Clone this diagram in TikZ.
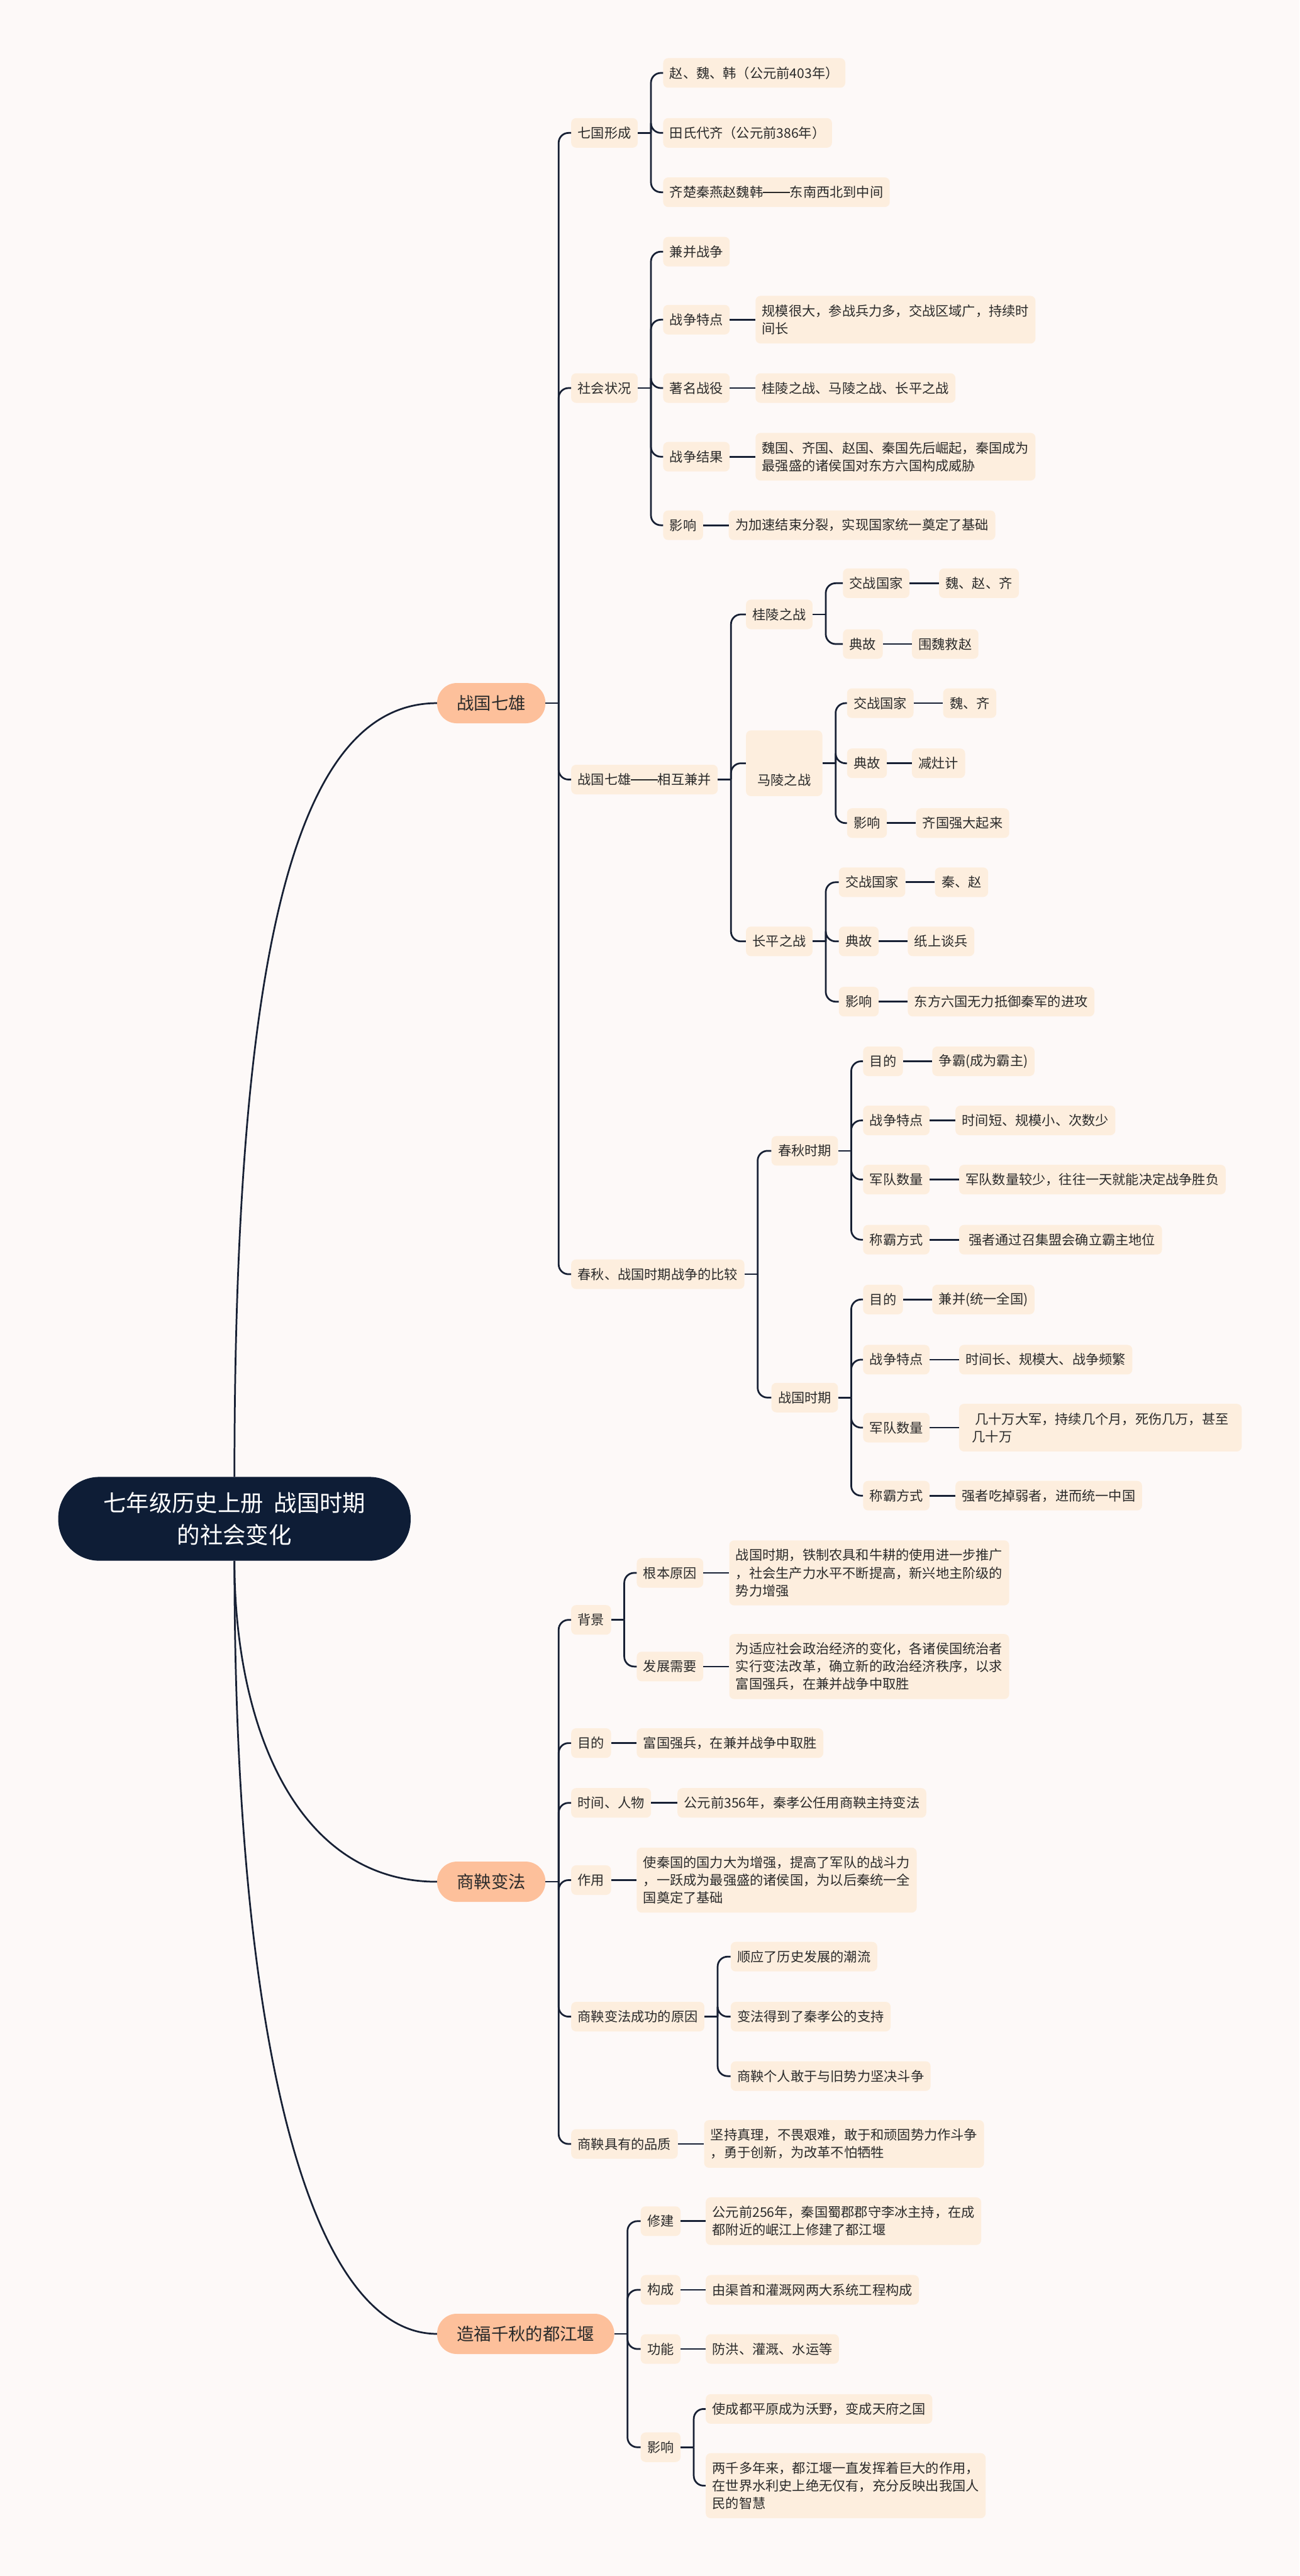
\documentclass[tikz,border=0pt]{standalone}
\usepackage{fontspec}
\setmainfont{Noto Sans CJK SC}
\usepackage{xcolor}
\definecolor{bgcol}{HTML}{FDF9F8}
\definecolor{navy}{HTML}{0E1D36}
\definecolor{salmon}{HTML}{FDC09B}
\definecolor{peach}{HTML}{FDEEDE}
\definecolor{linecol}{HTML}{172034}
\definecolor{textcol}{HTML}{2A2A2A}

\begin{document}
\begin{tikzpicture}[x=1mm, y=-1mm,
    rootnode/.style={fill=navy, text=white, rounded corners=25mm, align=center,
        minimum width=214.5mm, minimum height=51mm, inner sep=0pt,
        font=\fontsize{39.7}{55}\selectfont},
    topicnode/.style={fill=salmon, text=textcol, rounded corners=12mm, anchor=west,
        minimum height=24.5mm, inner xsep=12mm, inner ysep=0pt,
        font=\fontsize{29.8}{36}\selectfont},
    itemnode/.style={fill=peach, text=textcol, rounded corners=3mm, anchor=west,
        align=left, minimum height=18mm, inner xsep=4mm, inner ysep=0pt,
        font=\fontsize{23.1}{30.6}\selectfont},
    lines2/.style={minimum height=29mm},
    lines3/.style={minimum height=39.6mm},
    conn/.style={draw=linecol, line width=1.05mm, rounded corners=6mm}]

    % Background
    \fill[bgcol] (0,0) rectangle (791,1568);
    \useasboundingbox (0,0) rectangle (791,1568);

    % Root and main topics
    \node[rootnode] (root) at (142.7,924.5) {七年级历史上册~~战国时期\\的社会变化};
    \node[topicnode] (zgqx) at (266,428) {战国七雄};
    \node[topicnode] (sybf) at (266,1145.4) {商鞅变法};
    \node[topicnode] (djy) at (266,1420.6) {造福千秋的都江堰};
    \draw[conn] (root.north) .. controls (142.7,560) and (185,428) .. (zgqx.west);
    \draw[conn] (root.south) .. controls (142.7,1050) and (180,1145.4) .. (sybf.west);
    \draw[conn] (root.south) .. controls (142.7,1250) and (190,1420.6) .. (djy.west);

    % Warring states
    \node[itemnode] (qgxc) at (347.6,80.9) {七国形成};
    \node[itemnode] (shzk) at (347.6,236.2) {社会状况};
    \node[itemnode] (xhjb) at (347.6,474.5) {战国七雄\rule[0.33em]{2em}{0.06em}相互兼并};
    \node[itemnode] (bj) at (347.6,775.6) {春秋、战国时期战争的比较};
    \draw[conn] (zgqx.east) -- ++(8,0) coordinate (j0);
    \draw[conn] (j0) |- (qgxc.west);
    \draw[conn] (j0) |- (shzk.west);
    \draw[conn] (j0) |- (xhjb.west);
    \draw[conn] (j0) |- (bj.west);

    % Seven states formed
    \node[itemnode] (zwh) at (403.6,44.4) {赵、魏、韩（公元前403年）};
    \node[itemnode] (tsdq) at (403.6,80.9) {田氏代齐（公元前386年）};
    \node[itemnode] (qcq) at (403.6,117) {齐楚秦燕赵魏韩\rule[0.33em]{2em}{0.06em}东南西北到中间};
    \draw[conn] (qgxc.east) -- ++(8,0) coordinate (j1);
    \draw[conn] (j1) |- (zwh.west);
    \draw[conn] (j1) |- (tsdq.west);
    \draw[conn] (j1) |- (qcq.west);

    % Society
    \node[itemnode] (jbzz) at (403.6,153.2) {兼并战争};
    \node[itemnode] (zztd) at (403.6,194.6) {战争特点};
    \node[itemnode] (zmzy) at (403.6,236.2) {著名战役};
    \node[itemnode] (zzjg) at (403.6,278) {战争结果};
    \node[itemnode] (yxa) at (403.6,319.7) {影响};
    \node[itemnode, lines2] (zztdx) at (459.8,194.6) {规模很大，参战兵力多，交战区域广，持续时\\间长};
    \node[itemnode] (zmzyx) at (459.8,236.2) {桂陵之战、马陵之战、长平之战};
    \node[itemnode, lines2] (zzjgx) at (459.8,278) {魏国、齐国、赵国、秦国先后崛起，秦国成为\\最强盛的诸侯国对东方六国构成威胁};
    \node[itemnode] (yxax) at (443.5,319.7) {为加速结束分裂，实现国家统一奠定了基础};
    \draw[conn] (shzk.east) -- ++(8,0) coordinate (j2);
    \draw[conn] (j2) |- (jbzz.west);
    \draw[conn] (j2) |- (zztd.west);
    \draw[conn] (j2) |- (zmzy.west);
    \draw[conn] (j2) |- (zzjg.west);
    \draw[conn] (j2) |- (yxa.west);
    \draw[conn] (zztd.east) -- (zztdx.west);
    \draw[conn] (zmzy.east) -- (zmzyx.west);
    \draw[conn] (zzjg.east) -- (zzjgx.west);
    \draw[conn] (yxa.east) -- (yxax.west);

    % Three battles
    \node[itemnode] (gl) at (454,374) {桂陵之战};
    \node[itemnode, minimum height=0pt, inner xsep=7mm, text height=33.2mm, text depth=6.8mm] (ml) at (454,464.6) {马陵之战};
    \node[itemnode] (cp) at (454,573) {长平之战};
    \draw[conn] (xhjb.east) -- ++(8,0) coordinate (j3);
    \draw[conn] (j3) |- (gl.west);
    \draw[conn] (j3) |- (ml.west);
    \draw[conn] (j3) |- (cp.west);

    \node[itemnode] (gla) at (513,355) {交战国家};
    \node[itemnode] (glb) at (513,392) {典故};
    \node[itemnode] (glax) at (571.5,355) {魏、赵、齐};
    \node[itemnode] (glbx) at (555,392) {围魏救赵};
    \draw[conn] (gl.east) -- ++(8,0) coordinate (j4);
    \draw[conn] (j4) |- (gla.west);
    \draw[conn] (j4) |- (glb.west);
    \draw[conn] (gla.east) -- (glax.west);
    \draw[conn] (glb.east) -- (glbx.west);

    \node[itemnode] (mla) at (515.5,428) {交战国家};
    \node[itemnode] (mlb) at (515.5,464.6) {典故};
    \node[itemnode] (mlc) at (515.5,501) {影响};
    \node[itemnode] (mlax) at (574,428) {魏、齐};
    \node[itemnode] (mlbx) at (555,464.6) {减灶计};
    \node[itemnode] (mlcx) at (557.5,501) {齐国强大起来};
    \draw[conn] (ml.east) -- ++(8,0) coordinate (j5);
    \draw[conn] (j5) |- (mla.west);
    \draw[conn] (j5) |- (mlb.west);
    \draw[conn] (j5) |- (mlc.west);
    \draw[conn] (mla.east) -- (mlax.west);
    \draw[conn] (mlb.east) -- (mlbx.west);
    \draw[conn] (mlc.east) -- (mlcx.west);

    \node[itemnode] (cpa) at (510.5,537) {交战国家};
    \node[itemnode] (cpb) at (510.5,573) {典故};
    \node[itemnode] (cpc) at (510.5,609.7) {影响};
    \node[itemnode] (cpax) at (569,537) {秦、赵};
    \node[itemnode] (cpbx) at (552.5,573) {纸上谈兵};
    \node[itemnode] (cpcx) at (552.5,609.7) {东方六国无力抵御秦军的进攻};
    \draw[conn] (cp.east) -- ++(8,0) coordinate (j6);
    \draw[conn] (j6) |- (cpa.west);
    \draw[conn] (j6) |- (cpb.west);
    \draw[conn] (j6) |- (cpc.west);
    \draw[conn] (cpa.east) -- (cpax.west);
    \draw[conn] (cpb.east) -- (cpbx.west);
    \draw[conn] (cpc.east) -- (cpcx.west);

    % Comparison of the two periods
    \node[itemnode] (cq) at (469.5,700.5) {春秋时期};
    \node[itemnode] (zg) at (469.5,850.7) {战国时期};
    \draw[conn] (bj.east) -- ++(8,0) coordinate (j7);
    \draw[conn] (j7) |- (cq.west);
    \draw[conn] (j7) |- (zg.west);

    \node[itemnode] (cqa) at (525.3,646) {目的};
    \node[itemnode] (cqb) at (525.3,682) {战争特点};
    \node[itemnode] (cqc) at (525.3,718) {军队数量};
    \node[itemnode] (cqd) at (525.3,754.6) {称霸方式};
    \node[itemnode] (cqax) at (567.4,646) {争霸(成为霸主)};
    \node[itemnode] (cqbx) at (581.5,682) {时间短、规模小、次数少};
    \node[itemnode] (cqcx) at (583.7,718) {军队数量较少，往往一天就能决定战争胜负};
    \node[itemnode] (cqdx) at (583.7,754.6) {\ 强者通过召集盟会确立霸主地位};
    \draw[conn] (cq.east) -- ++(8,0) coordinate (j8);
    \draw[conn] (j8) |- (cqa.west);
    \draw[conn] (j8) |- (cqb.west);
    \draw[conn] (j8) |- (cqc.west);
    \draw[conn] (j8) |- (cqd.west);
    \draw[conn] (cqa.east) -- (cqax.west);
    \draw[conn] (cqb.east) -- (cqbx.west);
    \draw[conn] (cqc.east) -- (cqcx.west);
    \draw[conn] (cqd.east) -- (cqdx.west);

    \node[itemnode] (zga) at (525.3,791) {目的};
    \node[itemnode] (zgb) at (525.3,827.6) {战争特点};
    \node[itemnode] (zgc) at (525.3,869) {军队数量};
    \node[itemnode] (zgd) at (525.3,910.4) {称霸方式};
    \node[itemnode] (zgax) at (567.4,791) {兼并(统一全国)};
    \node[itemnode] (zgbx) at (583.7,827.6) {时间长、规模大、战争频繁};
    \node[itemnode, lines2, minimum width=172mm] (zgcx) at (583.7,869) {\ 几十万大军，持续几个月，死伤几万，甚至\\几十万};
    \node[itemnode] (zgdx) at (581.5,910.4) {强者吃掉弱者，进而统一中国};
    \draw[conn] (zg.east) -- ++(8,0) coordinate (j9);
    \draw[conn] (j9) |- (zga.west);
    \draw[conn] (j9) |- (zgb.west);
    \draw[conn] (j9) |- (zgc.west);
    \draw[conn] (j9) |- (zgd.west);
    \draw[conn] (zga.east) -- (zgax.west);
    \draw[conn] (zgb.east) -- (zgbx.west);
    \draw[conn] (zgc.east) -- (zgcx.west);
    \draw[conn] (zgd.east) -- (zgdx.west);

    % Shang Yang reform
    \node[itemnode] (bg) at (347.6,986) {背景};
    \node[itemnode] (md) at (347.6,1061) {目的};
    \node[itemnode] (sjrw) at (347.6,1097.4) {时间、人物};
    \node[itemnode] (zy) at (347.6,1144.4) {作用};
    \node[itemnode] (yy) at (347.6,1227.5) {商鞅变法成功的原因};
    \node[itemnode] (pz) at (347.6,1305) {商鞅具有的品质};
    \draw[conn] (sybf.east) -- ++(8,0) coordinate (j10);
    \draw[conn] (j10) |- (bg.west);
    \draw[conn] (j10) |- (md.west);
    \draw[conn] (j10) |- (sjrw.west);
    \draw[conn] (j10) |- (zy.west);
    \draw[conn] (j10) |- (yy.west);
    \draw[conn] (j10) |- (pz.west);

    \node[itemnode] (bga) at (387.5,957.4) {根本原因};
    \node[itemnode] (bgb) at (387.5,1014.4) {发展需要};
    \node[itemnode, lines3] (bgax) at (443.8,957.4) {战国时期，铁制农具和牛耕的使用进一步推广\\，社会生产力水平不断提高，新兴地主阶级的\\势力增强};
    \node[itemnode, lines3] (bgbx) at (443.8,1014.4) {为适应社会政治经济的变化，各诸侯国统治者\\实行变法改革，确立新的政治经济秩序，以求\\富国强兵，在兼并战争中取胜};
    \draw[conn] (bg.east) -- ++(8,0) coordinate (j11);
    \draw[conn] (j11) |- (bga.west);
    \draw[conn] (j11) |- (bgb.west);
    \draw[conn] (bga.east) -- (bgax.west);
    \draw[conn] (bgb.east) -- (bgbx.west);

    \node[itemnode] (mdx) at (387.5,1061) {富国强兵，在兼并战争中取胜};
    \node[itemnode] (sjrwx) at (412.3,1097.4) {公元前356年，秦孝公任用商鞅主持变法};
    \node[itemnode, lines3] (zyx) at (387.5,1144.4) {使秦国的国力大为增强，提高了军队的战斗力\\，一跃成为最强盛的诸侯国，为以后秦统一全\\国奠定了基础};
    \draw[conn] (md.east) -- (mdx.west);
    \draw[conn] (sjrw.east) -- (sjrwx.west);
    \draw[conn] (zy.east) -- (zyx.west);

    \node[itemnode] (yya) at (444.7,1191) {顺应了历史发展的潮流};
    \node[itemnode] (yyb) at (444.7,1227.5) {变法得到了秦孝公的支持};
    \node[itemnode] (yyc) at (444.7,1263.7) {商鞅个人敢于与旧势力坚决斗争};
    \draw[conn] (yy.east) -- ++(8,0) coordinate (j12);
    \draw[conn] (j12) |- (yya.west);
    \draw[conn] (j12) |- (yyb.west);
    \draw[conn] (j12) |- (yyc.west);

    \node[itemnode, lines2] (pzx) at (428.5,1305) {坚持真理，不畏艰难，敢于和顽固势力作斗争\\，勇于创新，为改革不怕牺牲};
    \draw[conn] (pz.east) -- (pzx.west);

    % Dujiangyan
    \node[itemnode] (xj) at (389.9,1352) {修建};
    \node[itemnode] (gc) at (389.9,1393.8) {构成};
    \node[itemnode] (gn) at (389.9,1429.8) {功能};
    \node[itemnode] (yxb) at (389.9,1489.6) {影响};
    \draw[conn] (djy.east) -- ++(8,0) coordinate (j13);
    \draw[conn] (j13) |- (xj.west);
    \draw[conn] (j13) |- (gc.west);
    \draw[conn] (j13) |- (gn.west);
    \draw[conn] (j13) |- (yxb.west);

    \node[itemnode, lines2] (xjx) at (429.5,1352) {公元前256年，秦国蜀郡郡守李冰主持，在成\\都附近的岷江上修建了都江堰};
    \node[itemnode] (gcx) at (429.5,1393.8) {由渠首和灌溉网两大系统工程构成};
    \node[itemnode] (gnx) at (429.5,1429.8) {防洪、灌溉、水运等};
    \draw[conn] (xj.east) -- (xjx.west);
    \draw[conn] (gc.east) -- (gcx.west);
    \draw[conn] (gn.east) -- (gnx.west);

    \node[itemnode] (yxba) at (429.5,1466.3) {使成都平原成为沃野，变成天府之国};
    \node[itemnode, lines3] (yxbb) at (429.5,1513) {两千多年来，都江堰一直发挥着巨大的作用，\\在世界水利史上绝无仅有，充分反映出我国人\\民的智慧};
    \draw[conn] (yxb.east) -- ++(8,0) coordinate (j14);
    \draw[conn] (j14) |- (yxba.west);
    \draw[conn] (j14) |- (yxbb.west);
\end{tikzpicture}
\end{document}
